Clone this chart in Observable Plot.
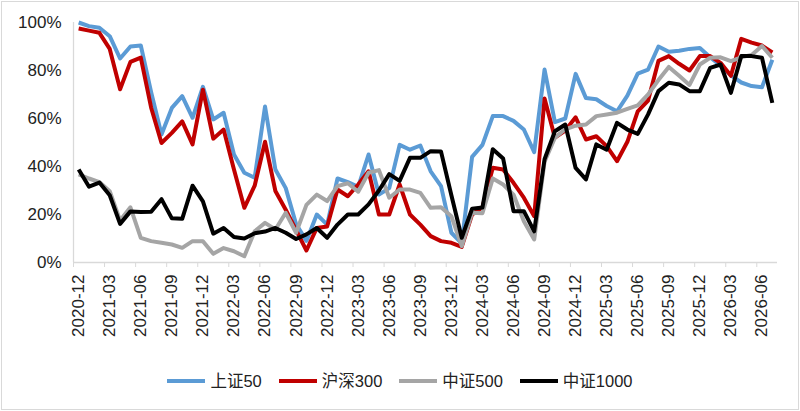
<!DOCTYPE html>
<html><head><meta charset="utf-8">
<script src="https://cdn.jsdelivr.net/npm/d3@7"></script>
<script src="https://cdn.jsdelivr.net/npm/@observablehq/plot@0.6"></script>
<style>
body{margin:0;background:#fff;}
#wrap{position:relative;width:800px;height:411px;overflow:hidden;background:#fff;font-family:"Liberation Sans","Noto Sans CJK SC",sans-serif;color:#222;}
#frame{position:absolute;left:1px;top:1px;right:1px;bottom:1px;border:1px solid #d9d9d9;pointer-events:none;}
#chart{position:absolute;left:0;top:0;}
#legend{position:absolute;left:0;top:369px;width:800px;display:flex;justify-content:center;gap:17px;font-size:16.5px;line-height:24px;}
.item{display:flex;align-items:center;gap:5px;}
.sw{width:38px;height:4px;}
</style>
</head><body>
<div id="wrap"><div id="chart"></div><div id="legend"></div><div id="frame"></div></div>
<script>
const months = ["2020-12",
"2021-01","2021-02","2021-03","2021-04","2021-05","2021-06","2021-07","2021-08","2021-09","2021-10","2021-11","2021-12",
"2022-01","2022-02","2022-03","2022-04","2022-05","2022-06","2022-07","2022-08","2022-09","2022-10","2022-11","2022-12",
"2023-01","2023-02","2023-03","2023-04","2023-05","2023-06","2023-07","2023-08","2023-09","2023-10","2023-11","2023-12",
"2024-01","2024-02","2024-03","2024-04","2024-05","2024-06","2024-07","2024-08","2024-09","2024-10","2024-11","2024-12",
"2025-01","2025-02","2025-03","2025-04","2025-05","2025-06","2025-07","2025-08","2025-09","2025-10","2025-11","2025-12",
"2026-01","2026-02","2026-03","2026-04","2026-05","2026-06","2026-07"];

const tickLabels = ["2020-12","2021-03","2021-06","2021-09","2021-12","2022-03","2022-06","2022-09","2022-12",
"2023-03","2023-06","2023-09","2023-12","2024-03","2024-06","2024-09","2024-12","2025-03","2025-06","2025-09",
"2025-12","2026-03","2026-06"];

const seriesNames = ["上证50","沪深300","中证500","中证1000"];
const seriesColors = ["#5b9bd5","#c00000","#a5a5a5","#000000"];

const sz50 = [100,98.5,97.8,94.3,85,90,90.4,71,53.3,64.4,69.3,60.3,73.2,
59.6,62.4,45,37.4,35.3,65,38.75,31,16,9,20,15.8,
35,33.5,31.5,45,28.3,31,49,47,48.75,38,31.8,12.4,
8,44,49,61,61,59,55.4,46,80.4,58.5,60,78.6,
68.5,68,65.2,63,69.5,78.7,80.4,90,87.8,88.2,89,89.4,
85.5,82,78,75,73.5,73,84.5];

const hs300 = [97.5,96.6,95.7,89,72.2,83.6,85.4,64.5,49.8,54,58.8,49.2,72,
51.6,55.4,38.75,22.8,32,50.3,29.8,22,13.5,5,14.4,15,
30.4,27.6,32.5,38,20,20,32.5,20,15.8,11,8.9,8.2,
6.5,20,23,39.5,38.75,33.2,27,19.3,68.3,52,55,60.5,
51.25,52.6,48.5,42.2,50.3,63,67.5,84,86,82.8,80,86,
86,83.2,77.8,93.2,91.6,90.4,87.5];

const zz500 = [36.7,35,33.5,29.7,17.5,23,10.3,8.9,8.2,7.5,6.1,8.9,8.9,
3.6,6,4.7,2.6,13,16.5,13.75,20.7,12.4,24,28.3,25.6,
31.8,33,29.5,37.4,38.5,27,30.4,30.4,29,22.8,23,19.3,
6.8,20.7,20.5,35,32.5,28.3,17.2,9.6,42,52,55.5,57,
57.5,61,61.7,62.4,64,65.5,70,76,81.5,77.8,74,82.5,
85.3,85.5,83.9,85.5,86.5,90.2,85.3];

const zz1000 = [38.75,31.6,33.3,28,16.1,21.3,21,21.1,26.4,18.4,18.2,32,25.5,
12,14.4,10.6,10,12.2,12.9,14.4,12.4,9.8,11.7,14.4,10.3,
15.8,20,20,24.2,30,36.8,34,43.6,43.6,46.4,46.2,28,
10.3,22.4,22.9,47.2,43.3,21.4,21.4,13,43,54.7,57.5,39.4,
34.6,49.2,47,58.2,55.4,53.6,61.7,71.4,74.9,74.2,71.4,71.4,
81.1,82.5,70.7,86,86,85.3,66.5];

const allSeries = [sz50, hs300, zz500, zz1000];
const data = seriesNames.flatMap((s, k) => allSeries[k].map((v, i) => ({i, month: months[i], v, s})));
const labelPos = tickLabels.map(l => months.indexOf(l));
const bounds = labelPos.map(p => p - 0.5);

const font = '"Liberation Sans","Noto Sans CJK SC",sans-serif';
const chart = Plot.plot({
  width: 800, height: 345,
  marginLeft: 73, marginRight: 23, marginTop: 22, marginBottom: 83,
  x: {domain: [-0.5, months.length - 0.5]},
  y: {domain: [0, 100]},
  color: {domain: seriesNames, range: seriesColors},
  style: {fontFamily: font, fontSize: "17px", color: "#222", background: "white", overflow: "visible"},
  marks: [
    Plot.ruleX([-0.5], {stroke: "#d9d9d9", strokeWidth: 1.3}),
    Plot.axisY({ticks: [0, 20, 40, 60, 80, 100], tickFormat: d => d + "%", tickSize: 0, tickPadding: 12, label: null, fontSize: 17}),
    Plot.axisX({ticks: bounds, tickFormat: () => "", tickSize: 5, stroke: "#d9d9d9", label: null}),
    Plot.axisX({ticks: labelPos, tickFormat: i => months[i], tickSize: 0, tickRotate: -90, tickPadding: 12, label: null, fontSize: 17}),
    Plot.ruleY([0], {stroke: "#d9d9d9", strokeWidth: 1.3}),
    Plot.line(data, {x: "i", y: "v", stroke: "s", strokeWidth: 4, strokeLinejoin: "round", strokeLinecap: "butt"})
  ]
});
document.getElementById("chart").appendChild(chart);

const legend = document.getElementById("legend");
seriesNames.forEach((s, k) => {
  const it = document.createElement("div");
  it.className = "item";
  const sw = document.createElement("span");
  sw.className = "sw";
  sw.style.background = seriesColors[k];
  const tx = document.createElement("span");
  tx.textContent = s;
  it.appendChild(sw); it.appendChild(tx);
  legend.appendChild(it);
});
</script>
</body></html>
